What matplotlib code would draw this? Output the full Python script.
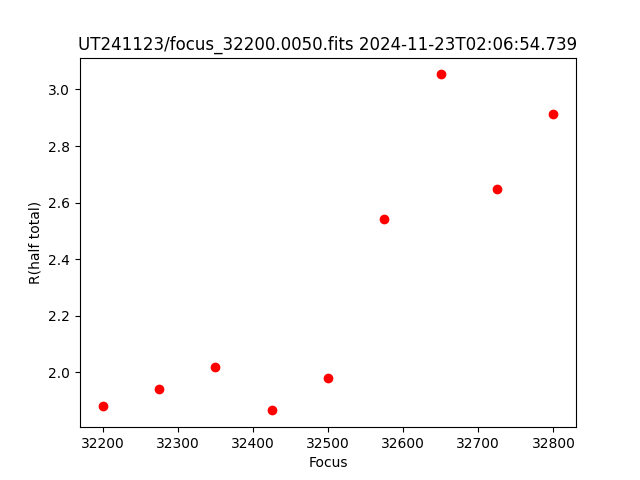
import matplotlib
matplotlib.use("Agg")
import matplotlib.pyplot as plt

focus = [32200, 32275, 32350, 32425, 32500, 32575, 32650, 32725, 32800]
radius = [1.880, 1.943, 2.018, 1.866, 1.982, 2.541, 3.053, 2.647, 2.912]

fig, ax = plt.subplots(figsize=(6.4, 4.8), dpi=100)
ax.plot(focus, radius, 'ro')
ax.set_xlabel('Focus')
ax.set_ylabel('R(half total)')
ax.set_title('UT241123/focus_32200.0050.fits 2024-11-23T02:06:54.739')
fig.savefig('out.png')
